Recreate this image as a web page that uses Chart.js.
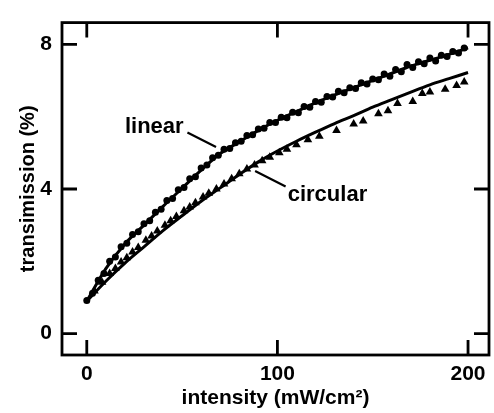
<!DOCTYPE html>
<html><head><meta charset="utf-8">
<script src="https://cdn.jsdelivr.net/npm/chart.js@4/dist/chart.umd.min.js"></script>
<style>html,body{margin:0;padding:0;background:#fff}#wrap{width:494px;height:413px}</style>
</head><body><div id="wrap"><canvas id="c" width="494" height="413"></canvas></div>
<script>
// ---- data ----
const xTicks = [0, 100, 200];
const yTicks = [0, 4, 8];
const xTitle = 'intensity (mW/cm²)';
const yTitle = 'transimission (%)';
const seriesNames = ['linear', 'circular'];

const linearX = [0,3,6,9,12,15,18,21,24,27,30,33,36,39,42,45,48,51,54,57,60,63,66,69,72,75,78,81,84,87,90,93,96,99,102,105,108,111,114,117,120,123,126,129,132,135,138,141,144,147,150,153,156,159,162,165,168,171,174,177,180,183,186,189,192,195,198];
const linearY = [0.92,1.12,1.48,1.66,2.00,2.12,2.40,2.50,2.74,2.82,3.04,3.12,3.36,3.44,3.68,3.74,3.98,4.04,4.28,4.34,4.58,4.66,4.86,4.93,5.10,5.12,5.28,5.32,5.48,5.50,5.66,5.68,5.84,5.84,5.98,5.97,6.12,6.11,6.28,6.26,6.42,6.40,6.56,6.54,6.70,6.66,6.80,6.78,6.94,6.90,7.04,7.02,7.18,7.12,7.30,7.24,7.44,7.36,7.52,7.46,7.62,7.54,7.70,7.66,7.80,7.76,7.90];

const circularX = [4,8,12,15,18,21,24,27,31,34,37,41,44,47,51,54,57,61,64,68,72,76,80,84,88,92,96,101,105,110,116,122,131,140,145,153,158,163,171,176,180,188,194,198];
const circularY = [1.18,1.42,1.66,1.80,1.98,2.10,2.26,2.38,2.58,2.70,2.84,3.00,3.12,3.24,3.40,3.50,3.62,3.78,3.88,4.00,4.14,4.28,4.42,4.55,4.66,4.78,4.88,5.00,5.10,5.22,5.36,5.46,5.62,5.80,5.88,6.08,6.16,6.36,6.42,6.64,6.68,6.76,6.86,6.96];

const fitX = [0,10,20,30,40,50,60,70,80,90,100,110,120,130,140,150,160,170,180,190,200];
const linearFitY = [0.9,1.8,2.48,3.0,3.52,4.02,4.52,4.98,5.3,5.62,5.9,6.14,6.38,6.6,6.8,7.0,7.2,7.4,7.56,7.72,7.9];
const circularFitY = [0.9,1.45,1.95,2.4,2.85,3.26,3.66,4.03,4.4,4.75,5.05,5.32,5.57,5.81,6.03,6.26,6.47,6.68,6.88,7.05,7.22];

// annotation anchors in data units
const linearLabelAt = {x: 20, y: 5.56};
const linearPointer = [{x: 52.8, y: 5.56}, {x: 67.8, y: 5.16}];
const circularLabelAt = {x: 105.4, y: 3.67};
const circularPointer = [{x: 88.3, y: 4.50}, {x: 104.3, y: 4.07}];

const FONT = '"Liberation Sans", Arial, Helvetica, sans-serif';
const pts = (xs, ys) => xs.map((x, i) => ({x, y: ys[i]}));

const frame = {
  id: 'frame',
  afterDatasetsDraw(chart) {
    const {ctx, chartArea: a, scales: {x, y}} = chart;
    ctx.save();
    ctx.strokeStyle = '#000';
    ctx.lineWidth = 2.8;
    ctx.strokeRect(a.left, a.top, a.right - a.left, a.bottom - a.top);
    const L = 15;
    ctx.beginPath();
    xTicks.forEach(v => {
      const p = x.getPixelForValue(v);
      ctx.moveTo(p, a.bottom); ctx.lineTo(p, a.bottom - L);
      ctx.moveTo(p, a.top); ctx.lineTo(p, a.top + L);
    });
    yTicks.forEach(v => {
      const p = y.getPixelForValue(v);
      ctx.moveTo(a.left, p); ctx.lineTo(a.left + L, p);
      ctx.moveTo(a.right, p); ctx.lineTo(a.right - L, p);
    });
    ctx.stroke();
    // annotations
    ctx.fillStyle = '#000';
    ctx.font = 'bold 22px ' + FONT;
    ctx.textBaseline = 'alphabetic';
    ctx.textAlign = 'left';
    ctx.fillText(seriesNames[0], x.getPixelForValue(linearLabelAt.x), y.getPixelForValue(linearLabelAt.y));
    ctx.fillText(seriesNames[1], x.getPixelForValue(circularLabelAt.x), y.getPixelForValue(circularLabelAt.y));
    ctx.lineWidth = 2.2;
    ctx.beginPath();
    [linearPointer, circularPointer].forEach(seg => {
      ctx.moveTo(x.getPixelForValue(seg[0].x), y.getPixelForValue(seg[0].y));
      ctx.lineTo(x.getPixelForValue(seg[1].x), y.getPixelForValue(seg[1].y));
    });
    ctx.stroke();
    ctx.restore();
  }
};

new Chart(document.getElementById('c'), {
  type: 'scatter',
  data: {
    datasets: [
      {label: 'linear fit', data: pts(fitX, linearFitY), showLine: true, borderColor: '#000', borderWidth: 3, pointRadius: 0, cubicInterpolationMode: 'monotone'},
      {label: 'circular fit', data: pts(fitX, circularFitY), showLine: true, borderColor: '#000', borderWidth: 3, pointRadius: 0, cubicInterpolationMode: 'monotone'},
      {label: seriesNames[0], data: pts(linearX, linearY), pointStyle: 'circle', pointRadius: 3.5, backgroundColor: '#000', borderWidth: 0},
      {label: seriesNames[1], data: pts(circularX, circularY), pointStyle: 'triangle', pointRadius: 5, backgroundColor: '#000', borderColor: '#000', borderWidth: 0}
    ]
  },
  options: {
    responsive: false,
    devicePixelRatio: 1,
    animation: false,
    layout: {padding: {top: 17, right: 2, left: 0, bottom: 0}},
    plugins: {legend: {display: false}, tooltip: {enabled: false}},
    scales: {
      x: {
        type: 'linear', min: -13, max: 211,
        grid: {display: false, drawTicks: false}, border: {display: false},
        afterBuildTicks: s => { s.ticks = xTicks.map(v => ({value: v})); },
        afterFit: s => { s.height = 58; },
        ticks: {color: '#000', padding: 7, maxRotation: 0, font: {family: FONT, size: 21, weight: 'bold'}},
        title: {display: true, text: xTitle, color: '#000', padding: {top: 0, bottom: 2}, font: {family: FONT, size: 21, weight: 'bold'}}
      },
      y: {
        type: 'linear', min: -0.59, max: 8.6,
        grid: {display: false, drawTicks: false}, border: {display: false},
        afterBuildTicks: s => { s.ticks = yTicks.map(v => ({value: v})); },
        afterFit: s => { s.width = 62; },
        ticks: {color: '#000', padding: 10, font: {family: FONT, size: 21, weight: 'bold'}},
        title: {display: true, text: yTitle, color: '#000', padding: {top: 16, bottom: 0}, font: {family: FONT, size: 20, weight: 'bold'}}
      }
    }
  },
  plugins: [frame]
});
</script></body></html>
